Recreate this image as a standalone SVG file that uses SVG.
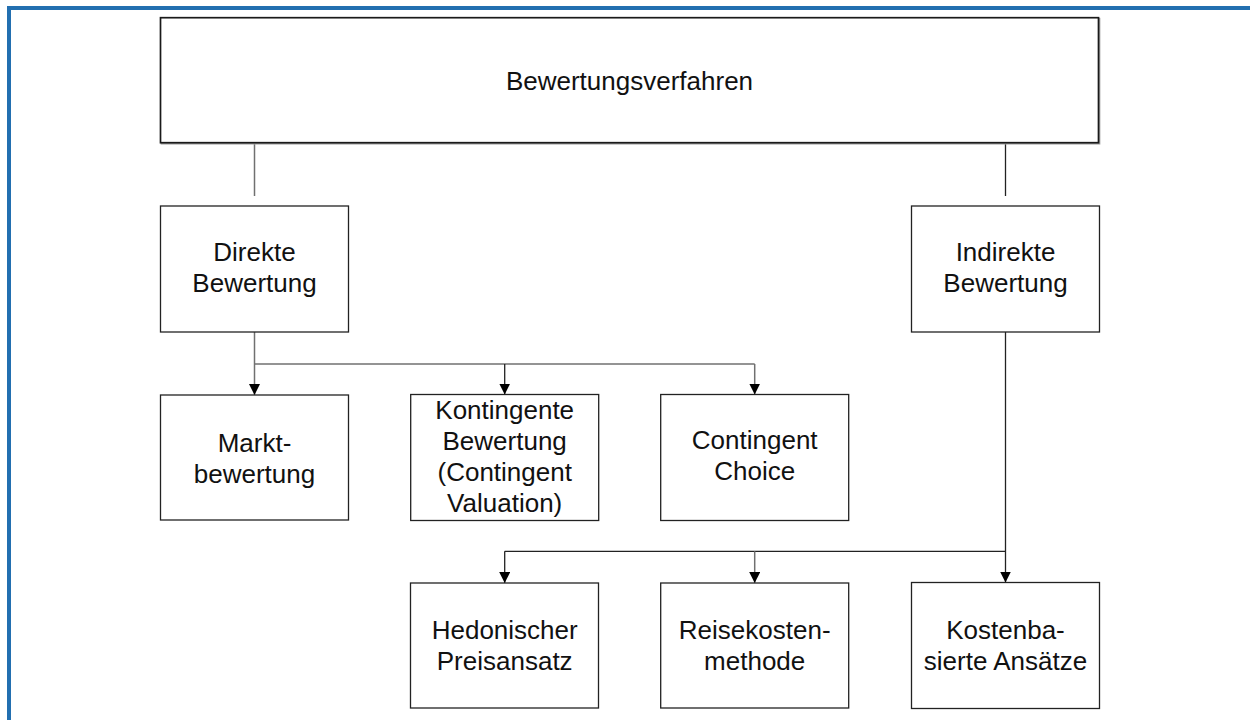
<svg xmlns="http://www.w3.org/2000/svg" width="1250" height="720" viewBox="0 0 1250 720">
  <style>
    .box { fill: #ffffff; stroke: #222222; stroke-width: 1.3; }
    .lbl { font-family: "Liberation Sans", Arial, sans-serif; font-size: 26px; fill: #111111; text-anchor: middle; }
    .con { fill: none; stroke: #222222; stroke-width: 1.3; }
    .con-g { fill: none; stroke: #707070; stroke-width: 1.5; }
  </style>
  <defs>
    <marker id="arr" markerWidth="12" markerHeight="12" refX="11" refY="5.5" orient="auto" markerUnits="userSpaceOnUse">
      <path d="M0,0 L11,5.5 L0,11 Z" fill="#000000"/>
    </marker>
  </defs>
  <rect x="0" y="0" width="1250" height="720" fill="#ffffff"/>
  <path d="M9,720 V8 H1250" fill="none" stroke="#226FB0" stroke-width="4"/>

  <g id="connectors">
    <line class="con-g" x1="254.5" y1="143" x2="254.5" y2="196"/>
    <line class="con" x1="1005.5" y1="143" x2="1005.5" y2="196"/>
    <line class="con-g" x1="254.5" y1="332" x2="254.5" y2="395" marker-end="url(#arr)"/>
    <line class="con-g" x1="254.5" y1="364" x2="754.7" y2="364"/>
    <line class="con" x1="504.7" y1="364" x2="504.7" y2="394.5" marker-end="url(#arr)"/>
    <line class="con-g" x1="754.7" y1="364" x2="754.7" y2="394.5" marker-end="url(#arr)"/>
    <line class="con" x1="1005.5" y1="332" x2="1005.5" y2="582.5" marker-end="url(#arr)"/>
    <line class="con" x1="504.7" y1="551.3" x2="1005.5" y2="551.3"/>
    <line class="con" x1="504.7" y1="551.3" x2="504.7" y2="583" marker-end="url(#arr)"/>
    <line class="con-g" x1="754.7" y1="551.3" x2="754.7" y2="583" marker-end="url(#arr)"/>
  </g>

  <g id="bewertungsverfahren">
    <rect x="161.5" y="18.7" width="938" height="125" fill="none" stroke="#a0a0a0" stroke-width="1.7"/>
    <rect x="160.5" y="17.7" width="938" height="125" fill="#ffffff" stroke="#1a1a1a" stroke-width="1.7"/>
    <text class="lbl" x="629.5" y="89.5">Bewertungsverfahren</text>
  </g>

  <g id="direkte">
    <rect class="box" x="160.5" y="206" width="188" height="126"/>
    <text class="lbl" x="254.5" y="261">Direkte</text>
    <text class="lbl" x="254.5" y="292">Bewertung</text>
  </g>

  <g id="indirekte">
    <rect class="box" x="911.5" y="206" width="188" height="126"/>
    <text class="lbl" x="1005.5" y="261">Indirekte</text>
    <text class="lbl" x="1005.5" y="292">Bewertung</text>
  </g>

  <g id="markt">
    <rect class="box" x="160.5" y="395" width="188" height="125"/>
    <text class="lbl" x="254.5" y="452">Markt-</text>
    <text class="lbl" x="254.5" y="483">bewertung</text>
  </g>

  <g id="kontingente">
    <rect class="box" x="410.7" y="394.5" width="188" height="126"/>
    <text class="lbl" x="504.7" y="418.5">Kontingente</text>
    <text class="lbl" x="504.7" y="449.5">Bewertung</text>
    <text class="lbl" x="504.7" y="481">(Contingent</text>
    <text class="lbl" x="504.7" y="512">Valuation)</text>
  </g>

  <g id="choice">
    <rect class="box" x="660.7" y="394.5" width="188" height="126"/>
    <text class="lbl" x="754.7" y="449">Contingent</text>
    <text class="lbl" x="754.7" y="480">Choice</text>
  </g>

  <g id="hedonisch">
    <rect class="box" x="410.5" y="583" width="188" height="125"/>
    <text class="lbl" x="504.7" y="638.5">Hedonischer</text>
    <text class="lbl" x="504.7" y="669.5">Preisansatz</text>
  </g>

  <g id="reisekosten">
    <rect class="box" x="660.7" y="583" width="188" height="125"/>
    <text class="lbl" x="754.7" y="638.5">Reisekosten-</text>
    <text class="lbl" x="754.7" y="669.5">methode</text>
  </g>

  <g id="kostenbasiert">
    <rect class="box" x="911.5" y="582.5" width="188" height="126"/>
    <text class="lbl" x="1005.5" y="638.5">Kostenba-</text>
    <text class="lbl" x="1005.5" y="669.5">sierte Ansätze</text>
  </g>
</svg>
